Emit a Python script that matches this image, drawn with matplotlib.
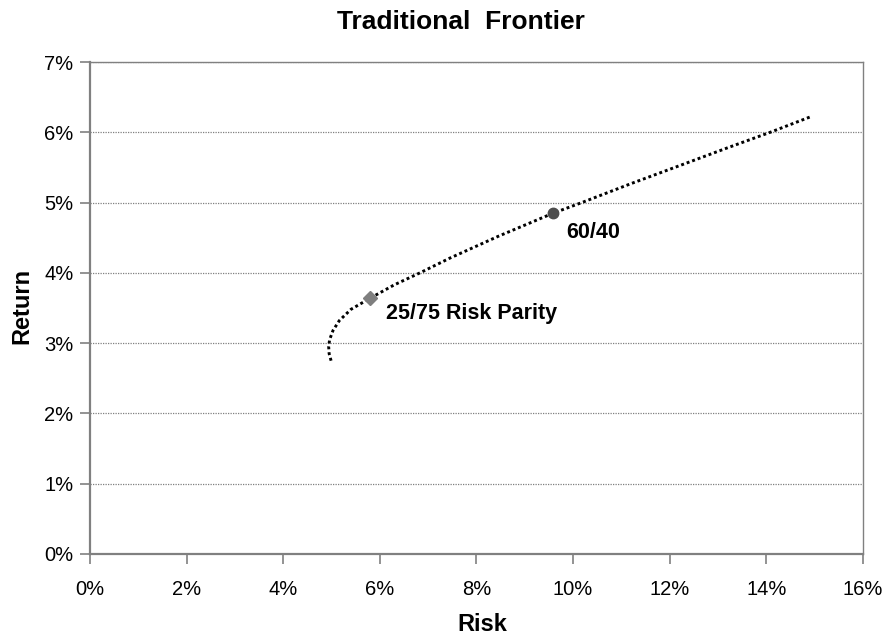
import matplotlib
matplotlib.use("Agg")
import matplotlib.pyplot as plt
from matplotlib.ticker import FuncFormatter

plt.rcParams['font.family'] = ['Liberation Sans', 'DejaVu Sans']

# efficient frontier (risk %, return %)
risk = [4.99, 4.95, 4.94, 4.96, 5.03, 5.16, 5.40, 5.80, 6.30, 6.83, 7.45,
        8.45, 9.59, 10.18, 11.20, 12.30, 13.20, 14.08, 14.95]
ret = [2.75, 2.85, 2.95, 3.05, 3.18, 3.32, 3.48, 3.64, 3.83, 4.00, 4.21,
       4.52, 4.85, 5.00, 5.27, 5.55, 5.78, 6.00, 6.23]

# highlighted portfolios
rp_risk, rp_ret = 5.80, 3.64
bal_risk, bal_ret = 9.59, 4.85

grey = '#808080'

fig = plt.figure(figsize=(8.86, 6.36), dpi=100)
ax = fig.add_axes([0.1016, 0.129, 0.8724, 0.7735])

ax.plot(risk, ret, color='black', lw=2.1, linestyle=(0, (1, 1.0)),
        dash_capstyle='butt', zorder=3)
ax.plot(rp_risk, rp_ret, marker='D', color='#7f7f7f', ms=7.5, mec='#7f7f7f',
        linestyle='none', zorder=4)
ax.plot(bal_risk, bal_ret, marker='o', color='#4d4d4d', ms=7.5, mec='#4d4d4d',
        linestyle='none', zorder=4)

ax.text(rp_risk + 0.33, rp_ret - 0.22, '25/75 Risk Parity', fontsize=15.5,
        fontweight='bold', va='center', ha='left')
ax.text(bal_risk + 0.27, bal_ret - 0.27, '60/40', fontsize=15.5,
        fontweight='bold', va='center', ha='left')

ax.set_xlim(0, 16)
ax.set_ylim(0, 7)
ax.set_xticks(range(0, 17, 2))
ax.set_yticks(range(0, 8))
ax.xaxis.set_major_formatter(FuncFormatter(lambda v, p: f'{v:.0f}%'))
ax.yaxis.set_major_formatter(FuncFormatter(lambda v, p: f'{v:.0f}%'))
ax.tick_params(axis='both', labelsize=14.5, color=grey, width=1.2, length=7,
               direction='out')
ax.tick_params(axis='x', pad=12)
ax.tick_params(axis='y', pad=5)

ax.yaxis.grid(True, color=grey, linestyle=(0, (1, 1)), lw=0.9)
ax.set_axisbelow(True)

for side in ['left', 'bottom']:
    ax.spines[side].set_color(grey)
    ax.spines[side].set_linewidth(1.6)
ax.spines['top'].set_color(grey)
ax.spines['top'].set_linewidth(1.0)
ax.spines['right'].set_color(grey)
ax.spines['right'].set_linestyle((0, (1, 1)))
ax.spines['right'].set_linewidth(1.0)

fig.text(461 / 886, 1 - 22 / 636, 'Traditional  Frontier', fontsize=19,
         fontweight='bold', ha='center', va='center')
ax.set_xlabel('Risk', fontsize=17, fontweight='bold', va='center')
ax.set_ylabel('Return', fontsize=17, fontweight='bold', va='center')
ax.xaxis.set_label_coords(0.507, -0.144)
ax.yaxis.set_label_coords(-0.088, 0.504)

fig.savefig('out.png', dpi=100)
